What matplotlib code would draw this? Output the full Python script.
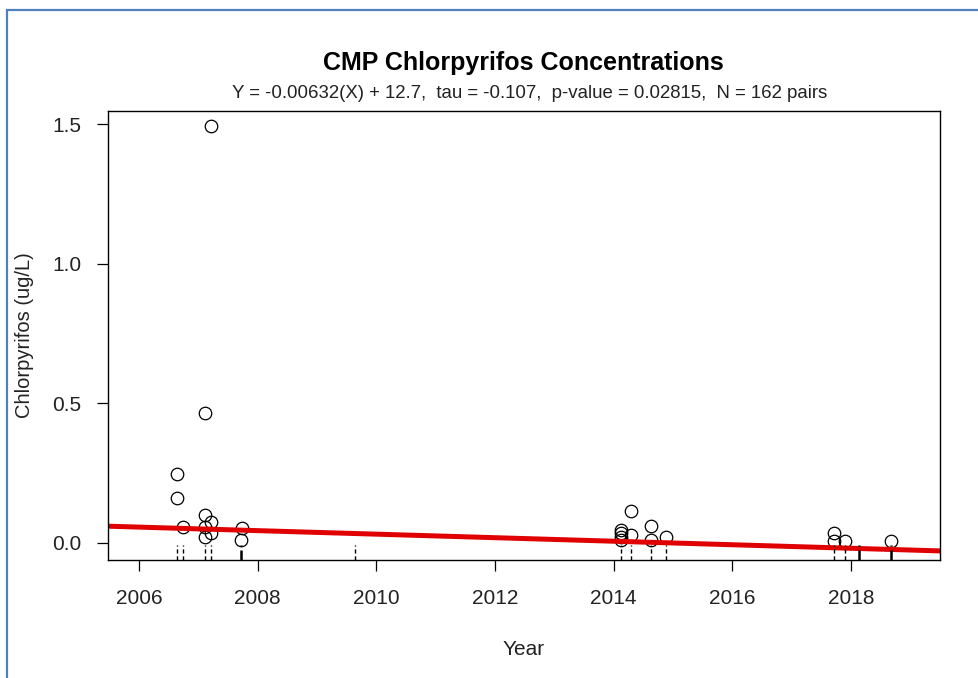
import numpy as np
import matplotlib
matplotlib.use("Agg")
import matplotlib.pyplot as plt
from matplotlib.patches import Rectangle
import matplotlib.transforms as mtransforms

plt.rcParams['font.family'] = ['Liberation Sans', 'DejaVu Sans']

# sample dates (decimal years) and concentrations
years = [2007.21, 2006.64, 2006.64, 2006.74, 2007.11, 2007.11, 2007.11, 2007.11,
         2007.21, 2007.21, 2007.73, 2007.72,
         2014.13, 2014.13, 2014.13, 2014.13, 2014.29, 2014.29, 2014.63, 2014.63,
         2014.89, 2017.71, 2017.71, 2017.90, 2018.67]
conc = [1.495, 0.247, 0.161, 0.057, 0.466, 0.100, 0.057, 0.022,
        0.076, 0.034, 0.055, 0.010,
        0.047, 0.035, 0.022, 0.010, 0.115, 0.030, 0.060, 0.012,
        0.020, 0.037, 0.008, 0.008, 0.008]

# rug marks along the x axis
rug_years = [2006.64, 2006.74, 2007.11, 2007.21, 2009.65,
             2014.13, 2014.29, 2014.63, 2014.89, 2017.71, 2017.90]
rug_years_dense = [2007.72, 2018.14, 2018.67]

# trend line
slope = -0.00632
intercept = 12.7348
line_years = [2005.48, 2019.52]

title = "CMP Chlorpyrifos Concentrations"
subtitle = "Y = -0.00632(X) + 12.7,  tau = -0.107,  p-value = 0.02815,  N = 162 pairs"

fig = plt.figure(figsize=(9.79, 6.78), dpi=100)
fig.patch.set_facecolor("white")

# blue frame around the picture
fig.patches.append(Rectangle((7 / 979, -0.05), 1.1, 1 - 10 / 678 + 0.05,
                             transform=fig.transFigure, fill=False,
                             edgecolor="#4f81bd", linewidth=1.6))

ax = fig.add_axes([108 / 979, 118 / 678, 832 / 979, 449 / 678])

ax.plot(years, conc, linestyle="none", marker="o", markersize=9,
        markerfacecolor="none", markeredgecolor="black", markeredgewidth=0.9)

lx = np.array(line_years)
ax.plot(lx, slope * lx + intercept, color="#e00000", linewidth=3.6,
        solid_capstyle="butt")

trans = mtransforms.blended_transform_factory(ax.transData, ax.transAxes)
ax.vlines(rug_years, 0, 0.033, transform=trans, colors="black",
          linewidth=1.0, linestyles=(0, (3, 2)))
ax.vlines(rug_years_dense, 0, 0.033, transform=trans, colors="black",
          linewidth=1.8, linestyles=(0, (4, 1.5)))

ax.set_xlim(2005.48, 2019.5)
ax.set_ylim(-0.061, 1.548)
ax.set_xticks([2006, 2008, 2010, 2012, 2014, 2016, 2018])
ax.set_yticks([0.0, 0.5, 1.0, 1.5])
ax.set_yticklabels(["0.0", "0.5", "1.0", "1.5"])

txt = "#222222"
for s in ax.spines.values():
    s.set_linewidth(1.0)
    s.set_color("black")
ax.tick_params(direction="out", length=8, width=0.9, labelsize=15,
               colors="black", labelcolor=txt)
ax.tick_params(axis="x", pad=13)
ax.tick_params(axis="y", pad=11)

ax.set_xlabel("Year", fontsize=15, labelpad=23, color=txt)
ax.set_ylabel("Chlorpyrifos (ug/L)", fontsize=14.5, labelpad=13, color=txt)

fig.text(523 / 979, 1 - 63 / 678, title, ha="center", va="center",
         fontsize=18, fontweight="bold", color="black")
fig.text(530 / 979, 1 - 93 / 678, subtitle, ha="center", va="center",
         fontsize=13.4, color=txt)

fig.savefig("out.png", dpi=100)
